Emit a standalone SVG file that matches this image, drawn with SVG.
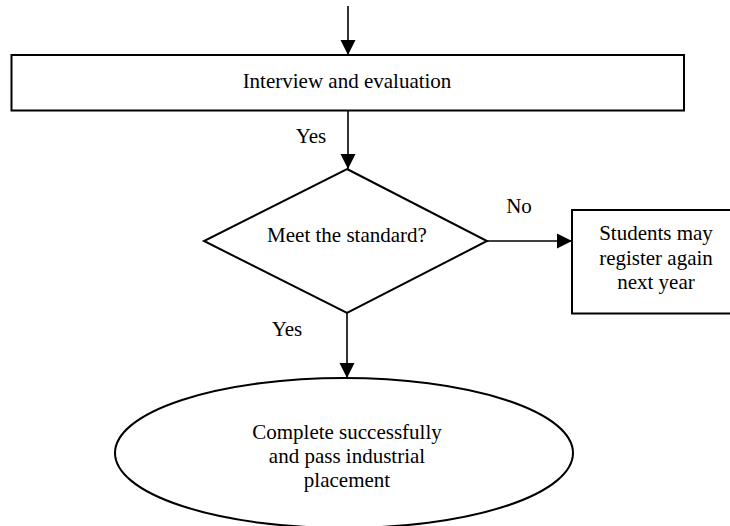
<svg xmlns="http://www.w3.org/2000/svg" width="730" height="526" viewBox="0 0 730 526">
<style>
  .shape { fill: #ffffff; stroke: #000000; stroke-width: 2; }
  .line { fill: none; stroke: #000000; stroke-width: 1.6; }
  text { font-family: "Liberation Serif", "Times New Roman", serif; font-size: 21px; fill: #000000; text-anchor: middle; }
</style>
<defs>
  <marker id="arrow" markerUnits="userSpaceOnUse" markerWidth="16" markerHeight="16" viewBox="0 0 16 16" refX="15" refY="8" orient="auto">
    <path d="M0,0.5 L15,8 L0,15.5 Z" fill="#000000"/>
  </marker>
</defs>
<rect width="730" height="526" fill="#ffffff"/>
<g id="connectors">
  <line class="line" x1="348" y1="6" x2="348" y2="55" marker-end="url(#arrow)"/>
  <line class="line" x1="348" y1="111" x2="348" y2="169" marker-end="url(#arrow)"/>
  <line class="line" x1="487" y1="241" x2="572" y2="241" marker-end="url(#arrow)"/>
  <line class="line" x1="347" y1="313" x2="347" y2="378" marker-end="url(#arrow)"/>
  <text x="311" y="143">Yes</text>
  <text x="519" y="213">No</text>
  <text x="287" y="336">Yes</text>
</g>
<g id="interview">
  <rect class="shape" x="11.5" y="55" width="672.5" height="55.5"/>
  <text x="347" y="88">Interview and evaluation</text>
</g>
<g id="decision">
  <polygon class="shape" points="347,169 487,241 347,313 204,241"/>
  <text x="347" y="242">Meet the standard?</text>
</g>
<g id="register-again">
  <rect class="shape" x="572" y="210" width="170" height="103.5"/>
  <text x="656" y="240">Students may</text>
  <text x="656" y="264.5">register again</text>
  <text x="656" y="289">next year</text>
</g>
<g id="complete">
  <ellipse class="shape" cx="344" cy="453" rx="229" ry="75"/>
  <text x="347" y="438.5">Complete successfully</text>
  <text x="347" y="463">and pass industrial</text>
  <text x="347" y="487">placement</text>
</g>
</svg>
